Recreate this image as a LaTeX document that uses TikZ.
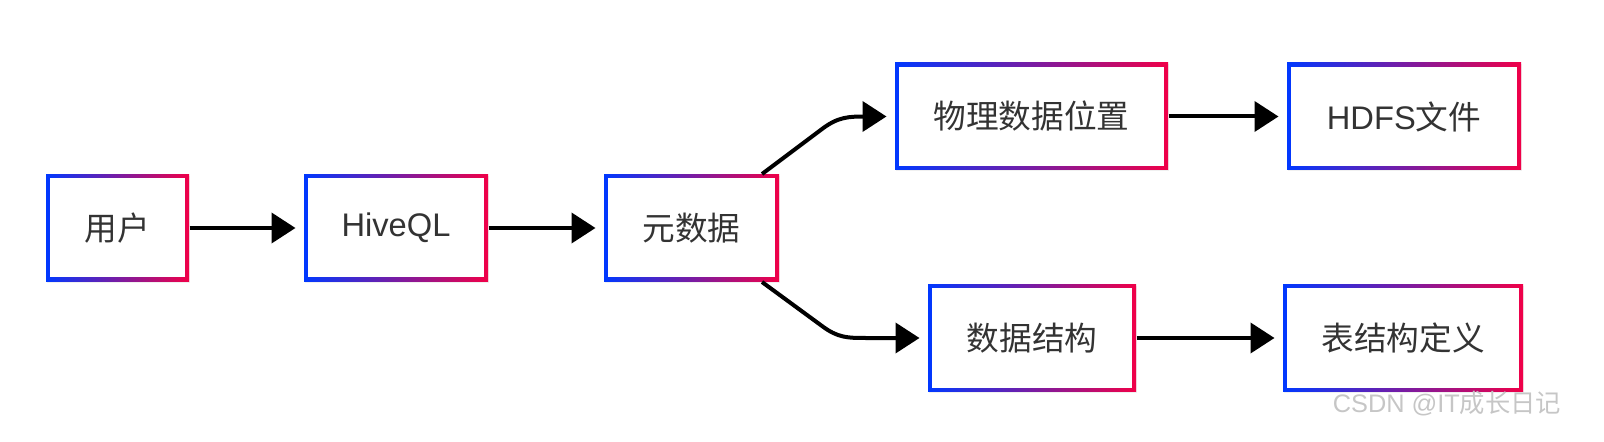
\documentclass[tikz,border=0pt]{standalone}
\usepackage{fontspec}
\setmainfont{Liberation Sans}
\newfontfamily\cjk{Noto Sans CJK SC}
\usetikzlibrary{arrows.meta,shadows}
\definecolor{hblue}{RGB}{0,56,255}
\definecolor{hred}{RGB}{240,0,72}
\definecolor{txtgray}{RGB}{51,51,51}
\tikzset{every picture/.style={line width=0.75pt}}
\tikzset{
  gbox/.style={fill=white, minimum height=80.25pt, inner sep=0pt, text=txtgray,
    font=\fontsize{24.5}{28}\selectfont,
    drop shadow={opacity=0.12, shadow xshift=1pt, shadow yshift=-1pt},
    path picture={
      \shade[left color=hblue, right color=hred] (path picture bounding box.south west) rectangle (path picture bounding box.north east);
      \fill[white] ([xshift=3pt,yshift=3pt]path picture bounding box.south west) rectangle ([xshift=-3pt,yshift=-3pt]path picture bounding box.north east);
    }},
  flow/.style={line width=3pt, -{Triangle[length=18pt,width=22.5pt]}, shorten >=6pt},
}

\begin{document}
\begin{tikzpicture}[x=0.75pt,y=0.75pt,yscale=-1,xscale=1]

	%Boxes
	\node[gbox, minimum width=107.25pt] (user) at (117.5,228) {{\cjk 用户}};
	\node[gbox, minimum width=138pt] (hiveql) at (396,228) {HiveQL};
	\node[gbox, minimum width=131.25pt] (meta) at (691.5,228) {{\cjk 元数据}};
	\node[gbox, minimum width=204.75pt] (phys) at (1031.5,116.5) {{\cjk 物理数据位置}};
	\node[gbox, minimum width=175.5pt] (hdfs) at (1404,116.5) {HDFS{\cjk 文件}};
	\node[gbox, minimum width=156pt] (struct) at (1032,338) {{\cjk 数据结构}};
	\node[gbox, minimum width=180pt] (tabdef) at (1403,338) {{\cjk 表结构定义}};

	%Straight arrows
	\draw[flow] (user.east) -- (hiveql.west);
	\draw[flow] (hiveql.east) -- (meta.west);
	\draw[flow] (phys.east) -- (hdfs.west);
	\draw[flow] (struct.east) -- (tabdef.west);

	%Curved arrows
	\coordinate (metaUp) at (762,174);
	\coordinate (metaDn) at (762,282);
	\draw[flow] (metaUp) -- (822,129) .. controls (838,117) and (848,116.5) .. (866,116.5) -- (phys.west);
	\draw[flow] (metaDn) -- (822,326) .. controls (838,338) and (848,338) .. (866,338) -- (struct.west);

	% Watermark
	\node[text=gray!45, font=\fontsize{19}{22}\selectfont] (mark) at (1447,404) {CSDN @IT{\cjk 成长日记}};

	%set diagram size
	\pgfresetboundingbox
	\useasboundingbox (0,0) rectangle (1604,442);
\end{tikzpicture}
\end{document}
